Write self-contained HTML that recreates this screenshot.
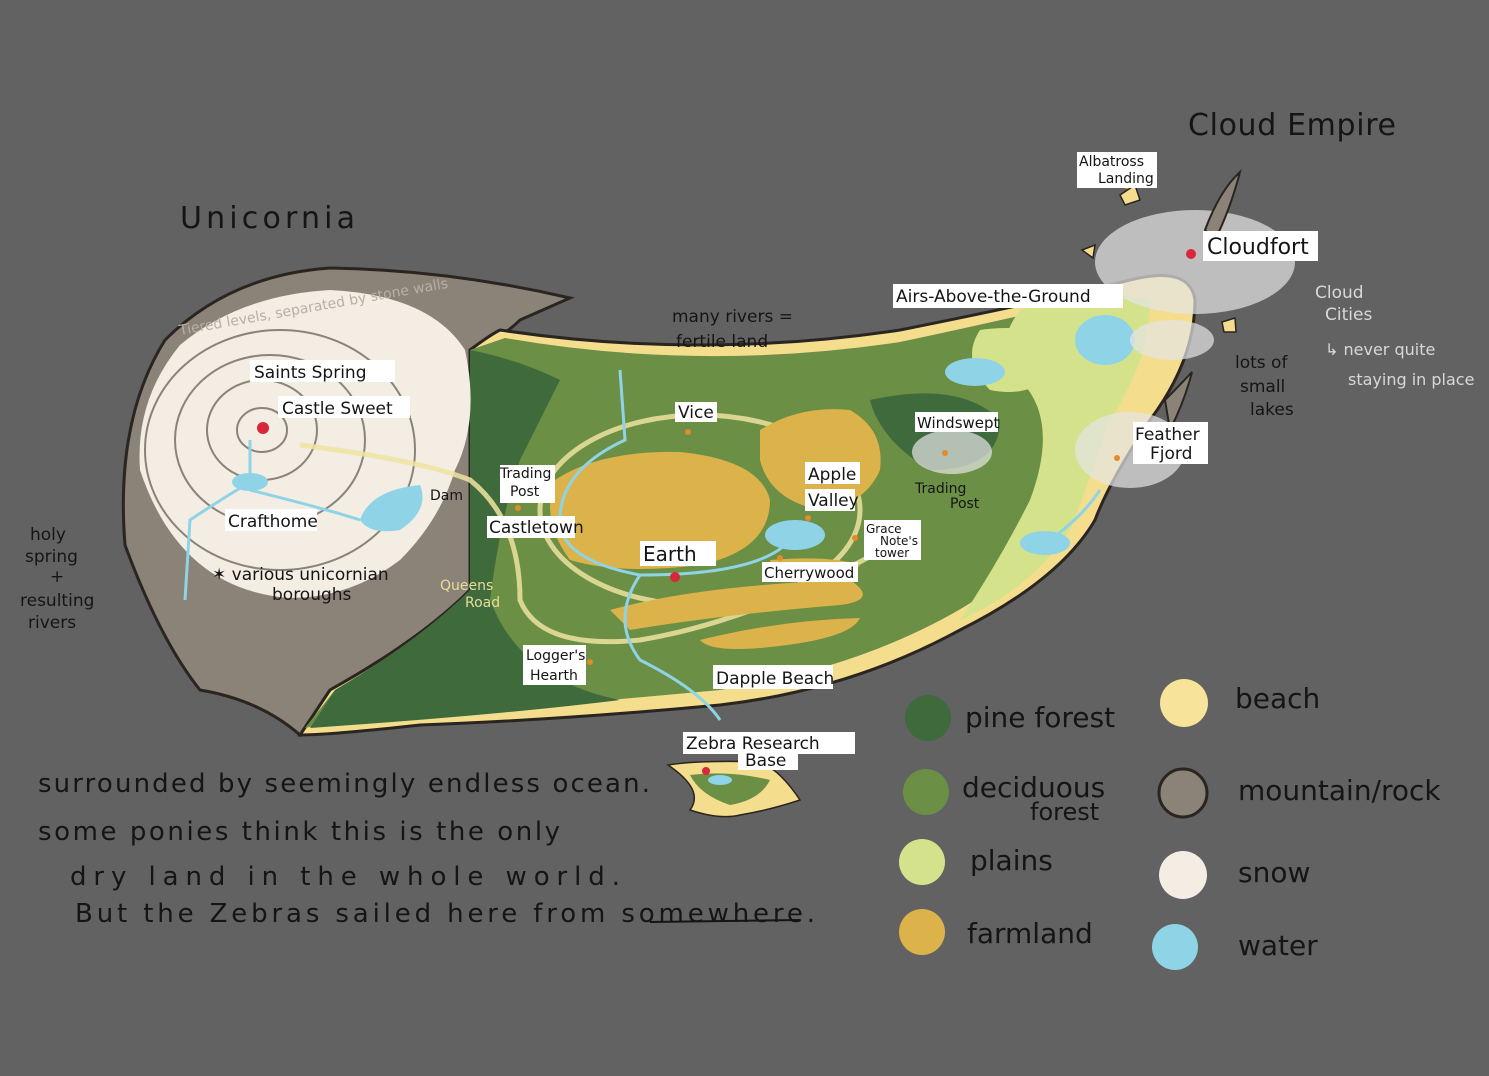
<!DOCTYPE html>
<html><head><meta charset="utf-8"><style>
html,body{margin:0;padding:0;background:#626262;}
svg{display:block}
text{font-family:"DejaVu Sans","Liberation Sans",sans-serif;fill:#151515}
.lb{font-size:17px}
.big{font-size:30px}
</style></head><body>
<svg width="1489" height="1076" viewBox="0 0 1489 1076">
<rect width="1489" height="1076" fill="#626262"/>
<path d="M125,545 Q115,420 165,340 Q230,275 330,268 Q450,270 570,298 L520,320 Q500,340 470,350 L470,590 Q420,640 330,690 L300,735 Q260,700 200,690 Q160,640 125,545Z" fill="#8c8378" stroke="#2a2520" stroke-width="3"/>
<path d="M500,330 Q700,360 900,330 Q1050,300 1130,280 Q1190,265 1195,300 Q1195,360 1150,420 Q1110,480 1095,520 Q1060,580 960,630 Q850,690 720,705 Q560,720 420,725 Q330,735 300,735 L330,690 Q420,640 470,590 L470,350 Q490,335 500,330Z" fill="#f5dd8e" stroke="#2a2520" stroke-width="3"/>
<path d="M505,338 Q700,372 900,342 Q1040,312 1120,292 Q1150,320 1120,360 Q1090,410 1080,470 Q1050,560 950,615 Q850,670 720,690 Q560,705 420,715 Q340,720 305,728 L335,690 Q420,640 470,590 L470,350Z" fill="#6b8f45"/>
<path d="M470,350 Q520,360 560,380 Q540,420 520,460 Q500,520 490,600 Q520,680 620,700 Q500,715 310,728 L335,690 Q420,640 470,590Z" fill="#3f6a3c"/>
<path d="M870,400 Q960,380 1000,420 Q1000,470 930,470 Q880,440 870,400Z" fill="#3f6a3c"/>
<path d="M1020,310 Q1120,290 1150,300 Q1150,360 1110,420 Q1090,480 1070,530 Q1030,590 960,620 Q1000,560 1030,500 Q1060,420 1020,380 Q990,350 1020,310Z" fill="#d4e28c"/>
<path d="M980,330 Q1050,320 1060,360 Q1040,400 990,390 Q960,360 980,330Z" fill="#d4e28c"/>
<path d="M140,470 Q135,400 180,345 Q240,295 330,290 Q430,295 465,350 Q480,420 455,470 Q440,520 400,560 Q350,598 290,598 Q180,590 140,470Z" fill="#f3ede4"/>
<g fill="none" stroke="#8c8378" stroke-width="2">
<ellipse cx="262" cy="430" rx="25" ry="22"/>
<ellipse cx="262" cy="430" rx="55" ry="50"/>
<ellipse cx="270" cy="440" rx="95" ry="85"/>
<ellipse cx="280" cy="450" rx="135" ry="120"/>
</g>
<g fill="none" stroke="#eee3a0" stroke-width="5" opacity=".85">
<ellipse cx="700" cy="510" rx="160" ry="95"/>
<path d="M300,445 Q420,460 470,480 Q520,520 520,600 Q540,650 640,640 Q760,620 900,540"/>
</g>
<path d="M555,480 Q600,450 680,452 Q760,460 770,500 Q770,550 700,565 Q620,575 570,560 Q540,520 555,480Z" fill="#dcb24b"/>
<path d="M760,430 Q800,405 850,410 Q885,430 880,470 Q865,505 820,510 Q770,500 760,460Z" fill="#dcb24b"/>
<path d="M770,560 Q830,555 860,565 Q850,580 780,580Z" fill="#dcb24b"/>
<path d="M610,610 Q700,585 850,580 Q880,600 840,605 Q720,615 630,630Z" fill="#dcb24b"/>
<path d="M700,640 Q780,620 860,618 Q850,640 760,648 Q710,652 700,640Z" fill="#dcb24b"/>
<g fill="#8fd3e6">
<ellipse cx="250" cy="482" rx="18" ry="9"/>
<path d="M360,520 Q370,490 420,485 Q430,510 400,530 Q370,535 360,520Z"/>
<ellipse cx="795" cy="535" rx="30" ry="15"/>
<ellipse cx="975" cy="372" rx="30" ry="14"/>
<ellipse cx="1105" cy="340" rx="30" ry="25"/>
<ellipse cx="1045" cy="543" rx="25" ry="12"/>
</g>
<g fill="none" stroke="#8fd3e6" stroke-width="3">
<path d="M250,482 L250,440 M250,482 Q220,500 190,520 L185,600 M250,490 Q330,510 360,520"/>
<path d="M620,370 L625,440 Q560,470 560,520 Q560,560 640,575 Q760,575 790,540 M640,575 Q610,620 640,660 Q700,690 720,720"/>
<path d="M1045,543 Q1080,520 1100,490"/>
</g>
<g fill="#e6e6e6" opacity=".7">
<ellipse cx="1195" cy="262" rx="100" ry="52"/>
<ellipse cx="1172" cy="340" rx="42" ry="20"/>
<ellipse cx="1130" cy="450" rx="55" ry="38"/>
<ellipse cx="952" cy="452" rx="40" ry="22"/>
</g>
<g fill="#8c8378" stroke="#2a2520" stroke-width="2">
<path d="M1205,230 Q1220,190 1240,172 Q1230,210 1215,240Z"/>
<path d="M1165,400 Q1180,385 1192,372 Q1185,400 1170,430Z"/>
</g>
<g fill="#f5dd8e" stroke="#2a2520" stroke-width="1.5">
<path d="M1120,195 L1135,185 L1140,200 L1125,205Z"/>
<path d="M1082,250 L1095,245 L1093,258Z"/>
<path d="M1222,322 L1235,318 L1236,332 L1224,332Z"/>
<path d="M668,765 Q700,760 760,762 Q780,770 800,800 Q770,810 740,815 Q720,820 690,810 Q705,790 668,765Z"/>
</g>
<path d="M690,775 Q730,770 770,780 Q760,800 730,805 Q700,795 690,775Z" fill="#6b8f45"/>
<ellipse cx="720" cy="780" rx="12" ry="5" fill="#8fd3e6"/>
<g fill="#d8263a"><circle cx="263" cy="428" r="6"/><circle cx="675" cy="577" r="5"/><circle cx="1191" cy="254" r="5"/><circle cx="706" cy="771" r="4"/></g>
<g fill="#e38a2a"><circle cx="688" cy="432" r="3"/><circle cx="808" cy="518" r="3"/><circle cx="518" cy="508" r="3"/><circle cx="855" cy="538" r="3"/><circle cx="590" cy="662" r="3"/><circle cx="945" cy="453" r="3"/><circle cx="1117" cy="458" r="3"/><circle cx="1055" cy="300" r="3"/><circle cx="1127" cy="186" r="3"/><circle cx="780" cy="558" r="3"/></g>
<g fill="#fff">
<rect x="250" y="360" width="145" height="22"/><rect x="278" y="396" width="132" height="22"/>
<rect x="225" y="509" width="92" height="22"/><rect x="675" y="402" width="42" height="20"/>
<rect x="805" y="462" width="55" height="22"/><rect x="805" y="489" width="50" height="22"/>
<rect x="487" y="516" width="88" height="22"/><rect x="640" y="541" width="76" height="25"/>
<rect x="762" y="562" width="96" height="20"/><rect x="864" y="520" width="57" height="40"/>
<rect x="523" y="645" width="63" height="40"/><rect x="713" y="665" width="120" height="24"/>
<rect x="683" y="732" width="172" height="22"/><rect x="738" y="750" width="60" height="20"/>
<rect x="893" y="284" width="230" height="24"/><rect x="1203" y="231" width="115" height="30"/>
<rect x="1077" y="152" width="80" height="36"/><rect x="1133" y="422" width="75" height="42"/>
<rect x="915" y="412" width="83" height="20"/><rect x="500" y="465" width="55" height="38"/>
</g>
<text class="lb" x="254" y="378">Saints Spring</text>
<text class="lb" x="282" y="414">Castle Sweet</text>
<text class="lb" x="228" y="527">Crafthome</text>
<text class="lb" x="678" y="418">Vice</text>
<text class="lb" x="808" y="480">Apple</text>
<text class="lb" x="808" y="506">Valley</text>
<text class="lb" x="489" y="533">Castletown</text>
<text class="lb" x="643" y="561" style="font-size:20px">Earth</text>
<text class="lb" x="764" y="578" style="font-size:15px">Cherrywood</text>
<text x="866" y="533" style="font-size:12px">Grace</text><text x="880" y="545" style="font-size:12px">Note's</text><text x="875" y="557" style="font-size:12px">tower</text>
<text x="526" y="660" style="font-size:14px">Logger's</text><text x="530" y="680" style="font-size:14px">Hearth</text>
<text class="lb" x="716" y="684">Dapple Beach</text>
<text class="lb" x="686" y="749">Zebra Research</text><text class="lb" x="745" y="766">Base</text>
<text class="lb" x="896" y="302">Airs-Above-the-Ground</text>
<text x="1207" y="254" style="font-size:22px">Cloudfort</text>
<text x="1079" y="166" style="font-size:14px">Albatross</text><text x="1098" y="183" style="font-size:14px">Landing</text>
<text class="lb" x="1135" y="440">Feather</text><text class="lb" x="1150" y="459">Fjord</text>
<text x="917" y="428" style="font-size:15px">Windswept</text>
<text x="500" y="478" style="font-size:14px">Trading</text><text x="510" y="496" style="font-size:14px">Post</text>
<text x="915" y="493" style="font-size:14px">Trading</text><text x="950" y="508" style="font-size:14px">Post</text>
<text x="430" y="500" style="font-size:14px">Dam</text>
<text x="212" y="580" class="lb">✶ various unicornian</text><text x="272" y="600" class="lb">boroughs</text>
<text x="440" y="590" style="font-size:14px;fill:#e8dc9a">Queens</text><text x="465" y="607" style="font-size:14px;fill:#e8dc9a">Road</text>
<text x="180" y="228" class="big" textLength="175">Unicornia</text>
<text x="1188" y="135" class="big" textLength="208">Cloud Empire</text>
<text x="672" y="322" class="lb">many rivers =</text><text x="676" y="347" class="lb">fertile land</text>
<text x="30" y="540" class="lb">holy</text><text x="25" y="562" class="lb">spring</text><text x="50" y="582" class="lb">+</text><text x="20" y="606" class="lb">resulting</text><text x="28" y="628" class="lb">rivers</text>
<text x="1315" y="298" style="font-size:17px;fill:#d8d8d8">Cloud</text><text x="1325" y="320" style="font-size:17px;fill:#d8d8d8">Cities</text>
<text x="1325" y="355" style="font-size:16px;fill:#d8d8d8">↳ never quite</text><text x="1348" y="385" style="font-size:16px;fill:#d8d8d8">staying in place</text>
<text x="1235" y="368" class="lb">lots of</text><text x="1240" y="392" class="lb">small</text><text x="1250" y="415" class="lb">lakes</text>
<text x="180" y="335" style="font-size:14px;fill:#b8b0a4" transform="rotate(-10 180 335)">Tiered levels, separated by stone walls</text>
<text style="font-size:26px" x="38" y="792" textLength="612">surrounded by seemingly endless ocean.</text>
<text style="font-size:26px" x="38" y="840" textLength="522">some ponies think this is the only</text>
<text style="font-size:26px" x="70" y="885" textLength="550">dry land in the whole world.</text>
<text style="font-size:26px" x="75" y="922" textLength="740">But the Zebras sailed here from somewhere.</text>
<line x1="650" y1="922" x2="800" y2="920" stroke="#151515" stroke-width="2"/>
<circle cx="928" cy="718" r="23" fill="#3f6a3c"/><text x="965" y="727" style="font-size:28px">pine forest</text>
<circle cx="926" cy="792" r="23" fill="#6b8f45"/><text x="962" y="797" style="font-size:28px">deciduous</text><text x="1030" y="820" style="font-size:24px">forest</text>
<circle cx="922" cy="862" r="23" fill="#d4e28c"/><text x="970" y="870" style="font-size:28px">plains</text>
<circle cx="922" cy="932" r="23" fill="#dcb24b"/><text x="967" y="943" style="font-size:28px">farmland</text>
<circle cx="1184" cy="703" r="24" fill="#f7e39a"/><text x="1235" y="708" style="font-size:28px">beach</text>
<circle cx="1183" cy="793" r="24" fill="#8c8378" stroke="#2a2520" stroke-width="3"/><text x="1238" y="800" style="font-size:28px">mountain/rock</text>
<circle cx="1183" cy="875" r="24" fill="#f3ede4"/><text x="1238" y="882" style="font-size:28px">snow</text>
<circle cx="1175" cy="947" r="23" fill="#8fd3e6"/><text x="1238" y="955" style="font-size:28px">water</text>
</svg>
</body></html>
